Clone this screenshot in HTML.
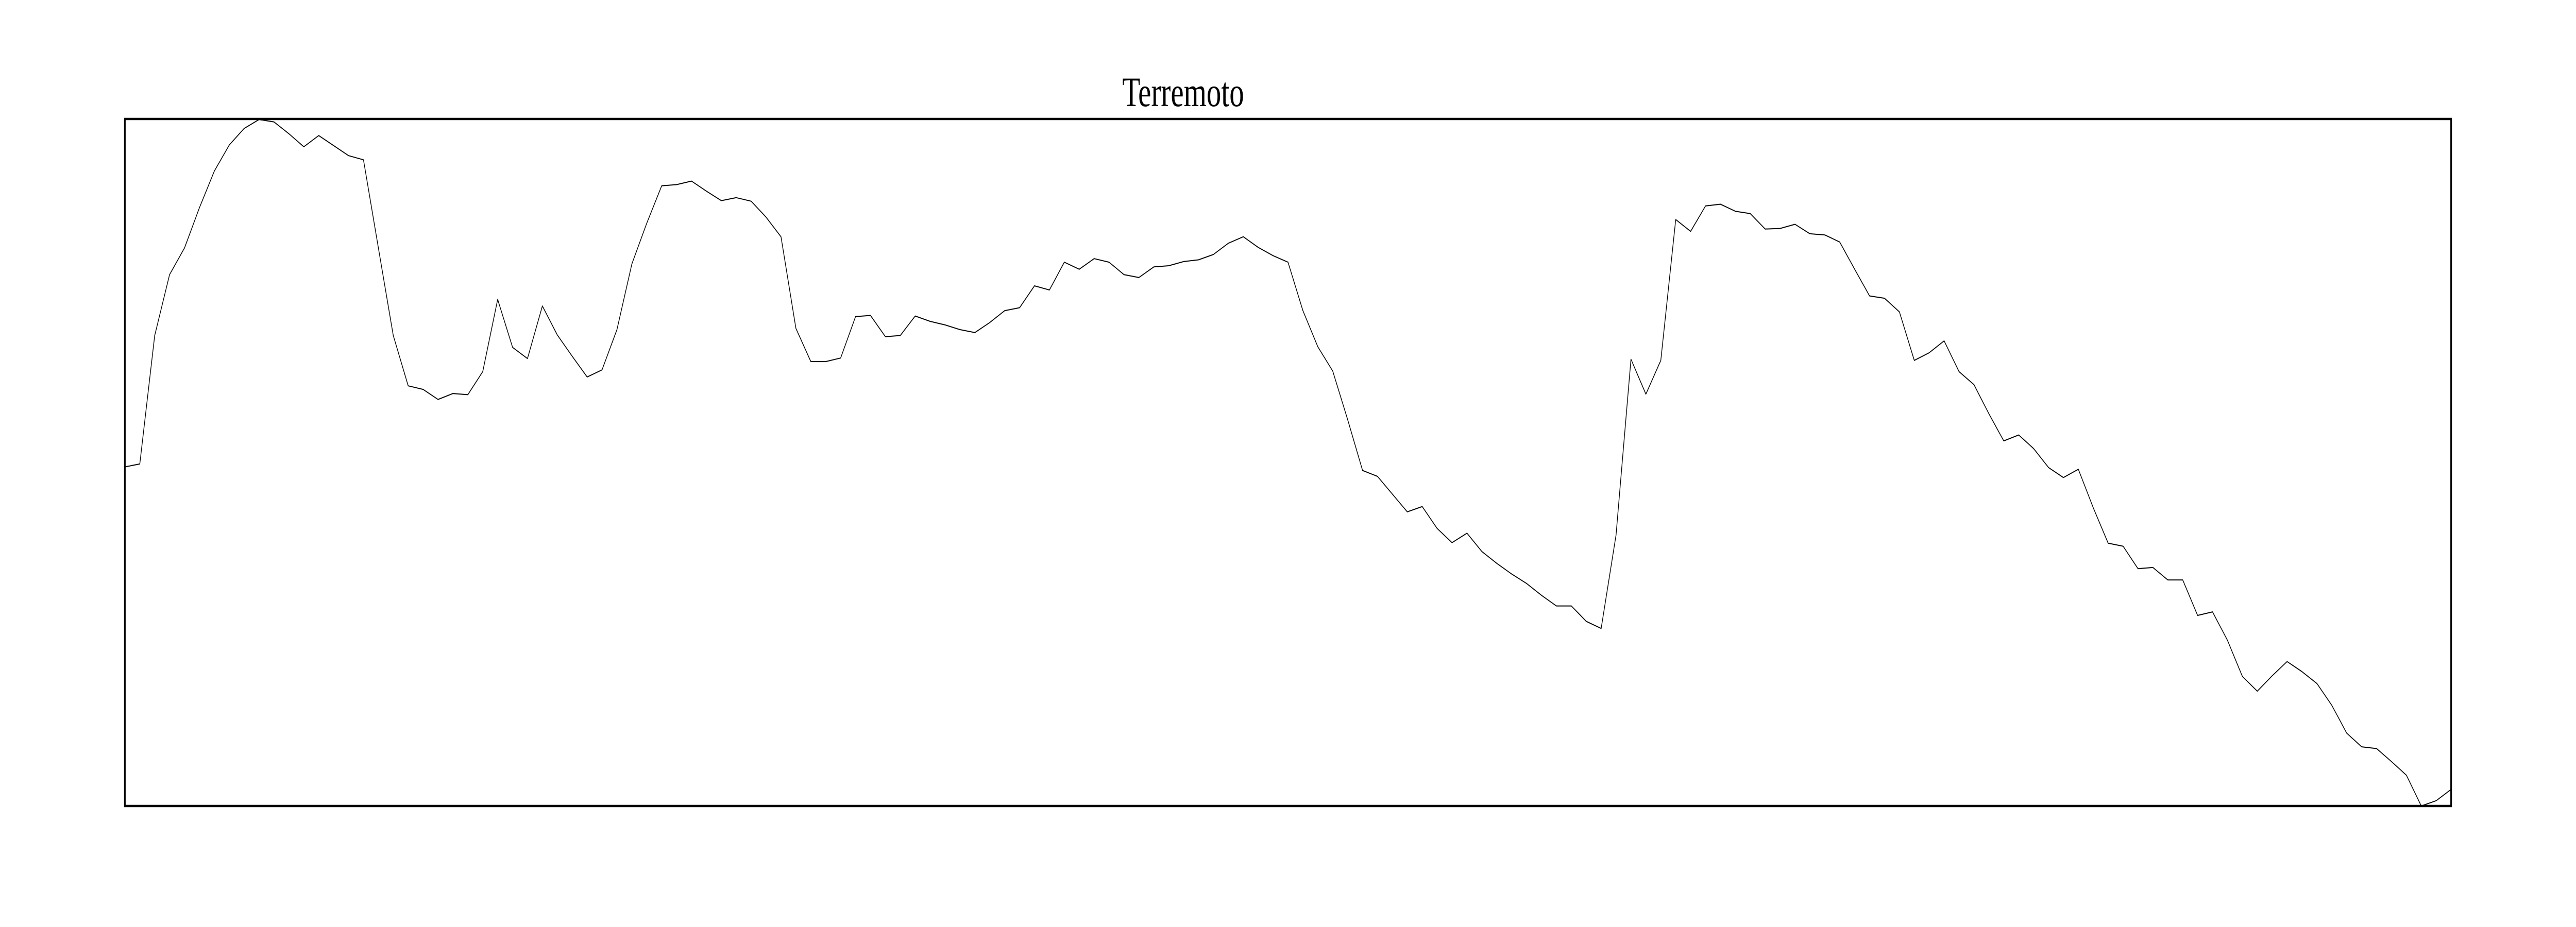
<!DOCTYPE html>
<html>
<head>
<meta charset="utf-8">
<style>
html,body{margin:0;padding:0;background:#fff;width:100%;height:100%;overflow:hidden;}
svg{display:block;width:100vw;height:100vh;}
</style>
</head>
<body>
<svg id="chart" viewBox="0 0 7200 1800" preserveAspectRatio="none" xmlns="http://www.w3.org/2000/svg">
  <rect x="0" y="0" width="7200" height="1800" fill="#fff"/>
  <text x="3307" y="206" text-anchor="middle" font-family="'Liberation Serif', serif" font-size="82" fill="#000">Terremoto</text>
  <g id="series"></g>
  <rect x="349" y="231" width="6502" height="1334" fill="none" stroke="#000" stroke-width="4.5"/>
</svg>
<script>
const values = [573,578,795,898,943,1011,1073,1117,1145,1160,1156,1136,1114,1133,1116,1099,1092,943,795,710,704,687,697,695,734,856,775,756,845,796,760,725,737,805,916,985,1048,1050,1056,1039,1023,1028,1022,995,962,807,751,751,757,827,
829,793,795,828,819,813,805,800,817,837,842,879,872,919,907,925,919,898,893,911,913,920,923,932,951,962,944,930,919,837,776,735,653,567,557,527,497,506,469,445,461,430,410,392,376,356,338,338,312,300,458,755,696,753,991,971,1014,
1017,1005,1001,975,976,983,967,965,953,907,862,858,835,753,766,786,734,712,663,617,627,604,572,555,569,504,444,439,401,403,382,382,322,328,280,219,194,220,244,227,207,170,123,100,97,75,52,0,9,28];
const yDomain = [0, 1161];

const X0 = 349, X1 = 6851, Y0 = 231, Y1 = 1565;
function xScale(i){ return X0 + (X1 - X0) * i / (values.length - 1); }
function yScale(v){ return Y1 - (Y1 - Y0) * (v - yDomain[0]) / (yDomain[1] - yDomain[0]); }

const g = document.getElementById('series');
const path = document.createElementNS('http://www.w3.org/2000/svg', 'path');
let d = '';
values.forEach((v, i) => {
  d += (i === 0 ? 'M' : 'L') + xScale(i).toFixed(1) + ' ' + yScale(v).toFixed(1) + ' ';
});
path.setAttribute('d', d);
path.setAttribute('fill', 'none');
path.setAttribute('stroke', '#000');
path.setAttribute('stroke-width', '2');
path.setAttribute('stroke-linejoin', 'round');


g.appendChild(path);
</script>
</body>
</html>
